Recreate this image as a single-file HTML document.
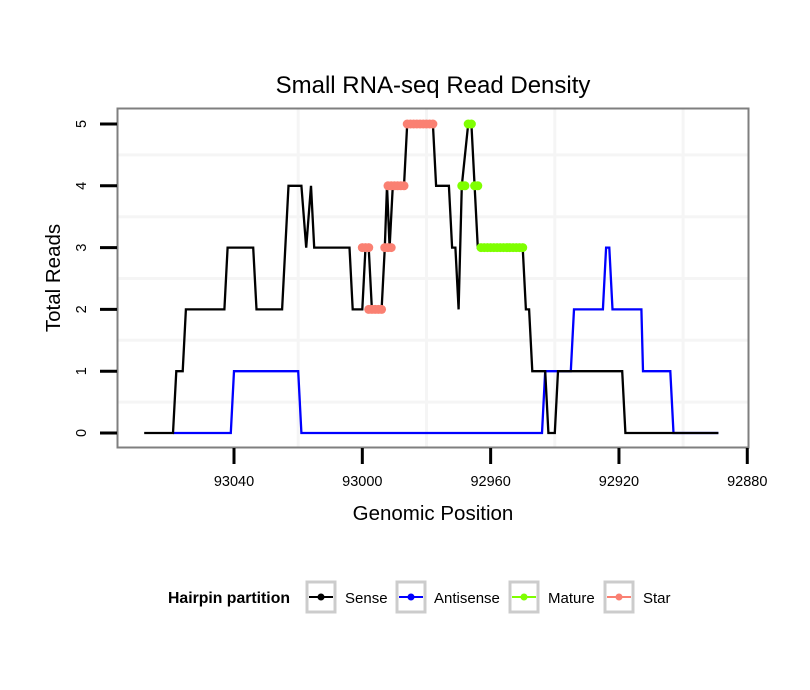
<!DOCTYPE html>
<html><head><meta charset="utf-8"><style>
body{margin:0;background:#fff}
svg{display:block;font-family:"Liberation Sans",sans-serif}
</style></head><body>
<svg id="c" width="810" height="690" viewBox="0 0 810 690">
<rect width="810" height="690" fill="#fff"/>
<text x="433" y="93" text-anchor="middle" font-size="24">Small RNA-seq Read Density</text>
<g id="grid"></g>
<g id="series"></g>
<rect x="117.5" y="108.5" width="631" height="339" fill="none" stroke="#7f7f7f" stroke-width="2"/>
<g id="axes"></g>
<text x="433" y="520" text-anchor="middle" font-size="20.5">Genomic Position</text>
<text transform="translate(60,278) rotate(-90)" text-anchor="middle" font-size="20.5">Total Reads</text>
<g>
<text x="168" y="603" font-size="15.8" font-weight="bold">Hairpin partition</text>
<g><rect x="307" y="582" width="28" height="30" fill="#fff" stroke="#ccc" stroke-width="3"/><line x1="309" y1="597" x2="333" y2="597" stroke="#000" stroke-width="2"/><circle cx="321" cy="597" r="3.5" fill="#000"/><text x="345" y="603" font-size="15">Sense</text></g>
<g><rect x="397" y="582" width="28" height="30" fill="#fff" stroke="#ccc" stroke-width="3"/><line x1="399" y1="597" x2="423" y2="597" stroke="#00f" stroke-width="2"/><circle cx="411" cy="597" r="3.5" fill="#00f"/><text x="434" y="603" font-size="15">Antisense</text></g>
<g><rect x="510" y="582" width="28" height="30" fill="#fff" stroke="#ccc" stroke-width="3"/><line x1="512" y1="597" x2="536" y2="597" stroke="#7fff00" stroke-width="2"/><circle cx="524" cy="597" r="3.5" fill="#7fff00"/><text x="548" y="603" font-size="15">Mature</text></g>
<g><rect x="605" y="582" width="28" height="30" fill="#fff" stroke="#ccc" stroke-width="3"/><line x1="607" y1="597" x2="631" y2="597" stroke="#fa8072" stroke-width="2"/><circle cx="619" cy="597" r="3.5" fill="#fa8072"/><text x="643" y="603" font-size="15">Star</text></g>
</g>
</svg>
<script>
const xTicks=[93040,93000,92960,92920,92880];
const yTicks=[0,1,2,3,4,5];
const sensePos=[93068,93059,93058,93056,93055,93043,93042,93034,93033,93025,93023,93019,93017.5,93016,93015,93004,93003,93000,92999,92998,92997,92994,92993,92992.3,92991.5,92990.5,92987,92986,92978,92977,92973,92972,92971,92970,92969,92967,92966,92965,92964,92950,92949,92948,92947,92943,92942,92940,92939,92919,92918,92889];
const senseVal=[0,0,1,1,2,2,3,3,2,2,4,4,3,4,3,3,2,2,3,3,2,2,3,4,3,4,4,5,5,4,4,3,3,2,4,5,5,4,3,3,2,2,1,1,0,0,1,1,0,0];
const antiPos=[93059,93041,93040,93020,93019,92944,92943,92935,92934,92925,92924,92923,92922,92913,92912.5,92904,92903,92889];
const antiVal=[0,0,1,1,0,0,1,1,2,2,3,3,2,2,1,1,0,0];
const starPos=[93000,92999,92998,92998,92997,92996,92995,92994,92993,92992,92991,92992,92991,92990,92989,92988,92987,92986,92985,92984,92983,92982,92981,92980,92979,92978];
const starVal=[3,3,3,2,2,2,2,2,3,3,3,4,4,4,4,4,4,5,5,5,5,5,5,5,5,5];
const maturePos=[92969,92968,92967,92966,92965,92964,92963,92962,92961,92960,92959,92958,92957,92956,92955,92954,92953,92952,92951,92950];
const matureVal=[4,4,5,5,4,4,3,3,3,3,3,3,3,3,3,3,3,3,3,3];
const NS='http://www.w3.org/2000/svg';
const X=p=>234+(93040-p)*3.208;
const Y=v=>433-v*61.8;
function mk(t,a,parent){const e=document.createElementNS(NS,t);for(const k in a)e.setAttribute(k,a[k]);parent.appendChild(e);return e;}
const grid=document.getElementById('grid'),axes=document.getElementById('axes'),ser=document.getElementById('series');
for(let i=0;i<xTicks.length;i++){
 const x=X(xTicks[i]);
 if(i<xTicks.length-1){const xm=X((xTicks[i]+xTicks[i+1])/2);const g2=mk('line',{x1:xm,x2:xm,y1:109,y2:447,stroke:'#f5f5f5','stroke-width':3},grid);
 
 }
 const t=mk('line',{x1:x,x2:x,y1:448,y2:464,stroke:'#000','stroke-width':3},axes);
 
 
 const l=mk('text',{x:x,y:486,'text-anchor':'middle','font-size':14.5},axes);l.textContent=xTicks[i];
 
 
}
for(let i=0;i<yTicks.length;i++){
 const y=Y(yTicks[i]);
 if(i<yTicks.length-1){const ym=Y(yTicks[i]+0.5);const g2=mk('line',{x1:118,x2:748,y1:ym,y2:ym,stroke:'#f5f5f5','stroke-width':3},grid);
 
 }
 const t=mk('line',{x1:100,x2:117,y1:y,y2:y,stroke:'#000','stroke-width':3},axes);
 
 
 const l=mk('text',{transform:`translate(86,${y}) rotate(-90)`,'text-anchor':'middle','font-size':14.5},axes);l.textContent=yTicks[i];
 
 
}
function line(pos,val,color,name){
 const pts=pos.map((p,i)=>X(p).toFixed(1)+','+Y(val[i]).toFixed(1)).join(' ');
 const e=mk('polyline',{points:pts,fill:'none',stroke:color,'stroke-width':2.3,'stroke-linejoin':'miter'},ser);
 
 
}
function pts(pos,val,color,name){
 for(let i=0;i<pos.length;i++){
  const c=mk('circle',{cx:X(pos[i]),cy:Y(val[i]),r:4.5,fill:color},ser);
  
  
 }
}
line(antiPos,antiVal,'#0000ff','antisense-line');
line(sensePos,senseVal,'#000000','sense-line');
pts(starPos,starVal,'#fa8072','star-point');
pts(maturePos,matureVal,'#7fff00','mature-point');
</script>
</body></html>
